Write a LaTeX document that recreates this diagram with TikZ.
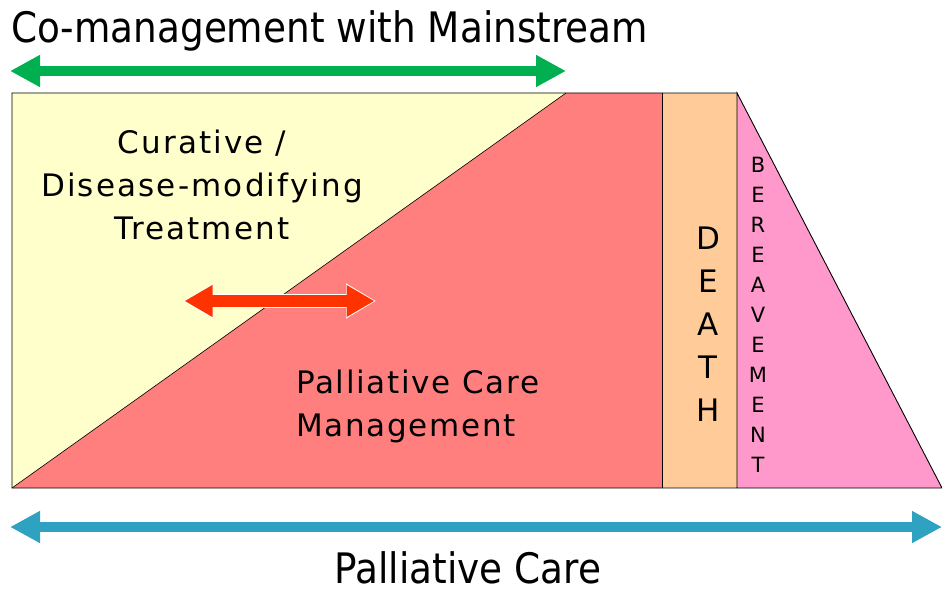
\documentclass[tikz,border=0pt]{standalone}
\usepackage{fontspec}
\setmainfont{DejaVu Sans}
\newfontfamily\narrowfont[FakeStretch=0.89]{DejaVu Sans}
\newfontfamily\widefont[LetterSpace=7]{DejaVu Sans}
\newfontfamily\midfont[LetterSpace=5.5]{DejaVu Sans}
\usetikzlibrary{arrows.meta}
\definecolor{cureyellow}{HTML}{FFFFCC}
\definecolor{pallred}{HTML}{FF7F7F}
\definecolor{deathtan}{HTML}{FFCC99}
\definecolor{griefpink}{HTML}{FF99CC}
\definecolor{mainsgreen}{HTML}{00B050}
\definecolor{carebl}{HTML}{2EA2C0}
\definecolor{shiftred}{HTML}{FF3300}
\tikzset{
  region/.style={draw=black, line width=0.9pt, line join=miter},
  bigtext/.style={font=\widefont\fontsize{31}{43}\selectfont, align=center, inner sep=0pt},
  lefttext/.style={font=\midfont\fontsize{31}{43}\selectfont, align=left, inner sep=0pt},
  stack/.style={font=\fontsize{31}{43}\selectfont, align=center, inner sep=0pt},
  smallstack/.style={font=\fontsize{21}{30}\selectfont, align=center, inner sep=0pt},
  caption/.style={font=\narrowfont\fontsize{42}{45}\selectfont, inner sep=0pt},
  span/.style={line width=10pt, {Triangle[width=30pt,length=30pt]}-{Triangle[width=30pt,length=30pt]}},
}
\begin{document}
\begin{tikzpicture}[x=1pt,y=-1pt]
\useasboundingbox (0,0) rectangle (942,591);
% phase regions
\fill[cureyellow] (12,93) -- (566,93) -- (12,488) -- cycle;
\fill[pallred] (566,93) -- (662,93) -- (662,488) -- (12,488) -- cycle;
\fill[deathtan] (662,93) rectangle (737,488);
\fill[griefpink] (737,93) -- (942,488) -- (737,488) -- cycle;
\draw[line width=0.6pt] (566,93) -- (12,488);
\draw[region] (737,93) -- (12,93) -- (12,488) -- (942,488) -- (737,93) -- (737,488);
\draw[region] (662,93) -- (662,488);
% labels
\node[bigtext] (cure) at (202,185) {Curative /\\Disease-modifying\\Treatment};
\node[lefttext, anchor=west] (pall) at (296,406) {Palliative Care\\Management};
\node[stack] (death) at (708,324) {D\\E\\A\\T\\H};
\node[smallstack] (grief) at (758,315) {B\\E\\R\\E\\A\\V\\E\\M\\E\\N\\T};
% transition arrow between the two treatment modes
\coordinate (sl) at (183,301);
\coordinate (sr) at (376,301);
\draw[draw=white, line width=14pt, {Triangle[width=33pt,length=30pt]}-{Triangle[width=33pt,length=30pt]}] (sl) -- (sr);
\draw[draw=shiftred, line width=12.5pt, {Triangle[width=30pt,length=28pt]}-{Triangle[width=30pt,length=28pt]}] ([xshift=1.5pt]sl) -- ([xshift=-1.5pt]sr);
% co-management span
\node[caption, anchor=west] (title) at (11,31) {Co-management with Mainstream};
\coordinate (gl) at (10,71);
\coordinate (gr) at (566,71);
\draw[span, draw=mainsgreen] (gl) -- (gr);
% palliative care span
\coordinate (bl) at (10,527);
\coordinate (br) at (942,527);
\draw[span, draw=carebl] (bl) -- (br);
\node[caption] (pc) at (468,568) {Palliative Care};
\end{tikzpicture}
\end{document}
